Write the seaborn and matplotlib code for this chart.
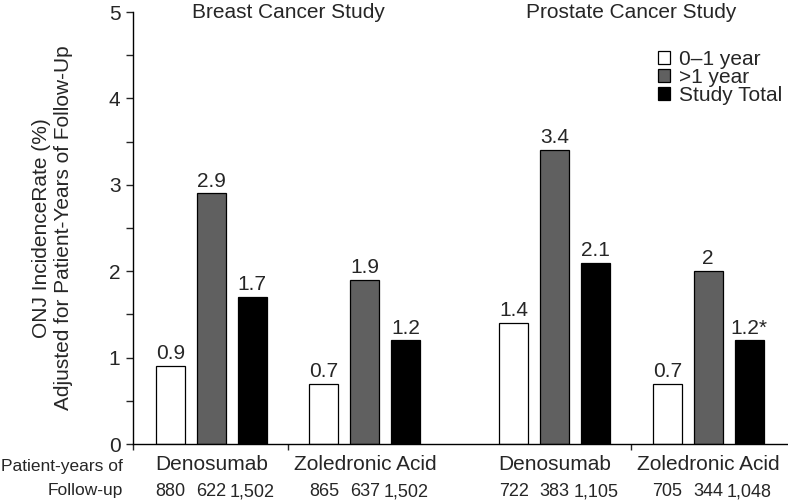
import pandas as pd
import matplotlib.pyplot as plt
import matplotlib.patches as mpatches
from matplotlib.ticker import MultipleLocator
import seaborn as sns

# Data
drugs = ['Denosumab', 'Zoledronic Acid', 'Denosumab', 'Zoledronic Acid']
studies = ['Breast Cancer Study', 'Prostate Cancer Study']
periods = ['0\u20131 year', '>1 year', 'Study Total']
year01 = [0.9, 0.7, 1.4, 0.7]
year_gt1 = [2.9, 1.9, 3.4, 2.0]
total = [1.7, 1.2, 2.1, 1.2]
lbl01 = ['0.9', '0.7', '1.4', '0.7']
lbl_gt1 = ['2.9', '1.9', '3.4', '2']
lbl_total = ['1.7', '1.2', '2.1', '1.2*']
py01 = ['880', '865', '722', '705']
py_gt1 = ['622', '637', '383', '344']
py_total = ['1,502', '1,502', '1,105', '1,048']

# group positions (second study slightly further apart)
xpos = [0, 1, 2.237, 3.237]

rows = []
for i, x in enumerate(xpos):
    rows.append({'x': x, 'period': periods[0], 'rate': year01[i]})
    rows.append({'x': x, 'period': periods[1], 'rate': year_gt1[i]})
    rows.append({'x': x, 'period': periods[2], 'rate': total[i]})
df = pd.DataFrame(rows)

sns.set_style('ticks')
plt.rcParams['font.family'] = ['Liberation Sans', 'DejaVu Sans']
plt.rcParams['font.size'] = 15

colors = {periods[0]: 'white', periods[1]: '#606060', periods[2]: 'black'}

fig = plt.figure(figsize=(7.88, 5.01), dpi=100)
ax = fig.add_axes([133 / 788, 57 / 501, 654 / 788, 432 / 501])

sns.barplot(data=df, x='x', y='rate', hue='period', hue_order=periods,
            palette=colors, native_scale=True, width=0.8, gap=0.29,
            edgecolor='black', linewidth=0.9, legend=False, ax=ax)

ax.set_xlim(-0.51, 3.75)
ax.set_ylim(0, 5)
ax.yaxis.set_major_locator(MultipleLocator(1))
ax.yaxis.set_minor_locator(MultipleLocator(0.5))
ax.tick_params(axis='y', which='major', length=5, width=1, labelsize=15, pad=4)
ax.tick_params(axis='y', which='minor', length=5, width=1)
ax.set_xticks([-0.51, 0.5, 2.737])
ax.set_xticklabels([])
ax.tick_params(axis='x', length=4, width=1)
for s in ['left', 'bottom']:
    ax.spines[s].set_linewidth(1)
    ax.spines[s].set_color('black')
sns.despine(ax=ax)
ax.set_xlabel('')
ax.set_ylabel('ONJ IncidenceRate (%)\nAdjusted for Patient-Years of Follow-Up',
              fontsize=15, labelpad=26, linespacing=1.15)

# value labels on top of bars
for cont, labs in zip(ax.containers, [lbl01, lbl_gt1, lbl_total]):
    order = sorted(range(len(cont.patches)), key=lambda k: cont.patches[k].get_x())
    ordered = [None] * len(labs)
    for rank, k in enumerate(order):
        ordered[k] = labs[rank]
    ax.bar_label(cont, labels=ordered, padding=2, fontsize=15)

# patient-years under the bars
trans = ax.get_xaxis_transform()
for cont, labs in zip(ax.containers, [py01, py_gt1, py_total]):
    bars = sorted(cont.patches, key=lambda p: p.get_x())
    for p, t in zip(bars, labs):
        ax.text(p.get_x() + p.get_width() / 2, -0.11, t, transform=trans,
                ha='center', va='center', fontsize=13)

for x, d in zip(xpos, drugs):
    ax.text(x, -0.047, d, transform=trans, ha='center', va='center', fontsize=15)

fig.text(123 / 788, 1 - 467 / 501, 'Patient-years of', ha='right', va='center', fontsize=12.5)
fig.text(123 / 788, 1 - 491 / 501, 'Follow-up', ha='right', va='center', fontsize=12.5)

# study titles
for (a, b), st in zip([(xpos[0], xpos[1]), (xpos[2], xpos[3])], studies):
    ax.text((a + b) / 2, 1.0, st, transform=trans, ha='center', va='center', fontsize=15)

handles = [mpatches.Patch(facecolor=colors[p], edgecolor='black', linewidth=0.9, label=p)
           for p in periods]
ax.legend(handles=handles, loc='upper left', bbox_to_anchor=(0.79, 0.932),
          frameon=False, fontsize=15, handlelength=0.6, handleheight=0.6,
          handletextpad=0.4, labelspacing=-0.05, borderaxespad=0)

fig.savefig('out.png', dpi=100)
